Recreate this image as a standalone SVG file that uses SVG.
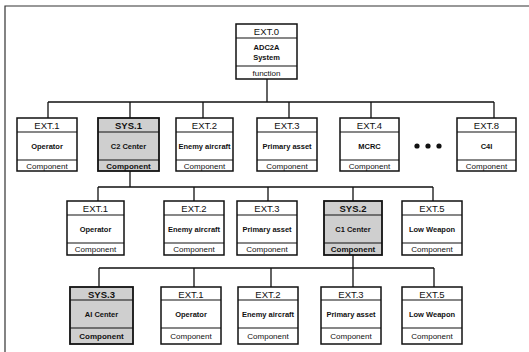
<svg xmlns="http://www.w3.org/2000/svg" width="529" height="352" viewBox="0 0 529 352">
<style>
.box{fill:#fff;stroke:#111;stroke-width:1.5}
.sys{fill:#cfcfcf;stroke:#111;stroke-width:1.8}
.div{stroke:#111;stroke-width:1.2}
.con{stroke:#111;stroke-width:1.3;fill:none}
.frame{stroke:#333;stroke-width:1.2;fill:none}
.h{font-family:"Liberation Sans",Arial,sans-serif;font-size:9.5px;text-anchor:middle;fill:#111}
.m{font-family:"Liberation Sans",Arial,sans-serif;font-size:7.5px;font-weight:bold;text-anchor:middle;fill:#111}
.c{font-family:"Liberation Sans",Arial,sans-serif;font-size:8px;text-anchor:middle;fill:#111}
.sb{font-weight:bold}
</style>
<rect width="529" height="352" fill="#fff"/>
<path class="frame" d="M5,352 V6 H529"/>
<g id="connectors">
<path class="con" d="M267,79 V102 M48,102 H494 M48,102 V118 M130,102 V118 M203,102 V118 M289,102 V118 M371,102 V118 M494,102 V118"/>
<path class="con" d="M130,171 V187 M98,187 H433 M98,187 V201 M194,187 V201 M268,187 V201 M353,187 V201 M433,187 V201"/>
<path class="con" d="M353,255 V287 M99,268 H434 M99,268 V287 M194,268 V287 M271,268 V287 M434,268 V287" />
</g>
<g id="ext0"><rect class="box" x="236" y="24" width="61" height="55"/><path class="div" d="M236,38 H297 M236,66 H297"/><text class="h" x="266.5" y="35">EXT.0</text><text class="m" x="266.5" y="50">ADC2A</text><text class="m" x="266.5" y="60">System</text><text class="c" x="266.5" y="75.5">function</text></g>
<g id="l1-ext1"><rect class="box" x="17" y="118" width="60" height="53"/><path class="div" d="M17,132 H77 M17,160 H77"/><text class="h" x="47" y="129">EXT.1</text><text class="m" x="47" y="148.5">Operator</text><text class="c" x="47" y="168.5">Component</text></g>
<g id="l1-sys1"><rect class="sys" x="98" y="118" width="61" height="53"/><path class="div" d="M98,132 H159 M98,160 H159"/><text class="h sb" x="128.5" y="129">SYS.1</text><text class="m" x="128.5" y="148.5">C2 Center</text><text class="c sb" x="128.5" y="168.5">Component</text></g>
<g id="l1-ext2"><rect class="box" x="176" y="118" width="57" height="53"/><path class="div" d="M176,132 H233 M176,160 H233"/><text class="h" x="204.5" y="129">EXT.2</text><text class="m" x="204.5" y="148.5">Enemy aircraft</text><text class="c" x="204.5" y="168.5">Component</text></g>
<g id="l1-ext3"><rect class="box" x="257" y="118" width="60" height="53"/><path class="div" d="M257,132 H317 M257,160 H317"/><text class="h" x="287" y="129">EXT.3</text><text class="m" x="287" y="148.5">Primary asset</text><text class="c" x="287" y="168.5">Component</text></g>
<g id="l1-ext4"><rect class="box" x="340" y="118" width="59" height="53"/><path class="div" d="M340,132 H399 M340,160 H399"/><text class="h" x="369.5" y="129">EXT.4</text><text class="m" x="369.5" y="148.5">MCRC</text><text class="c" x="369.5" y="168.5">Component</text></g>
<g id="dots" fill="#111"><circle cx="417" cy="146" r="2.6"/><circle cx="428" cy="146" r="2.6"/><circle cx="439" cy="146" r="2.6"/></g>
<g id="l1-ext8"><rect class="box" x="457" y="118" width="59" height="53"/><path class="div" d="M457,132 H516 M457,160 H516"/><text class="h" x="486.5" y="129">EXT.8</text><text class="m" x="486.5" y="148.5">C4I</text><text class="c" x="486.5" y="168.5">Component</text></g>
<g id="l2-ext1"><rect class="box" x="67" y="201" width="57" height="54"/><path class="div" d="M67,215 H124 M67,243 H124"/><text class="h" x="95.5" y="212">EXT.1</text><text class="m" x="95.5" y="231.5">Operator</text><text class="c" x="95.5" y="252">Component</text></g>
<g id="l2-ext2"><rect class="box" x="164" y="201" width="60" height="54"/><path class="div" d="M164,215 H224 M164,243 H224"/><text class="h" x="194" y="212">EXT.2</text><text class="m" x="194" y="231.5">Enemy aircraft</text><text class="c" x="194" y="252">Component</text></g>
<g id="l2-ext3"><rect class="box" x="237" y="201" width="60" height="54"/><path class="div" d="M237,215 H297 M237,243 H297"/><text class="h" x="267" y="212">EXT.3</text><text class="m" x="267" y="231.5">Primary asset</text><text class="c" x="267" y="252">Component</text></g>
<g id="l2-sys2"><rect class="sys" x="324" y="201" width="58" height="54"/><path class="div" d="M324,215 H382 M324,243 H382"/><text class="h sb" x="353" y="212">SYS.2</text><text class="m" x="353" y="231.5">C1 Center</text><text class="c sb" x="353" y="252">Component</text></g>
<g id="l2-ext5"><rect class="box" x="402" y="201" width="60" height="54"/><path class="div" d="M402,215 H462 M402,243 H462"/><text class="h" x="432" y="212">EXT.5</text><text class="m" x="432" y="231.5">Low Weapon</text><text class="c" x="432" y="252">Component</text></g>
<g id="l3-sys3"><rect class="sys" x="70" y="287" width="63" height="57"/><path class="div" d="M70,300 H133 M70,328 H133"/><text class="h sb" x="101.5" y="297.5">SYS.3</text><text class="m" x="101.5" y="317">AI Center</text><text class="c sb" x="101.5" y="339">Component</text></g>
<g id="l3-ext1"><rect class="box" x="161" y="287" width="60" height="57"/><path class="div" d="M161,300 H221 M161,328 H221"/><text class="h" x="191" y="297.5">EXT.1</text><text class="m" x="191" y="317">Operator</text><text class="c" x="191" y="339">Component</text></g>
<g id="l3-ext2"><rect class="box" x="238" y="287" width="60" height="57"/><path class="div" d="M238,300 H298 M238,328 H298"/><text class="h" x="268" y="297.5">EXT.2</text><text class="m" x="268" y="317">Enemy aircraft</text><text class="c" x="268" y="339">Component</text></g>
<g id="l3-ext3"><rect class="box" x="321" y="287" width="60" height="57"/><path class="div" d="M321,300 H381 M321,328 H381"/><text class="h" x="351" y="297.5">EXT.3</text><text class="m" x="351" y="317">Primary asset</text><text class="c" x="351" y="339">Component</text></g>
<g id="l3-ext5"><rect class="box" x="402" y="287" width="60" height="57"/><path class="div" d="M402,300 H462 M402,328 H462"/><text class="h" x="432" y="297.5">EXT.5</text><text class="m" x="432" y="317">Low Weapon</text><text class="c" x="432" y="339">Component</text></g>
</svg>
